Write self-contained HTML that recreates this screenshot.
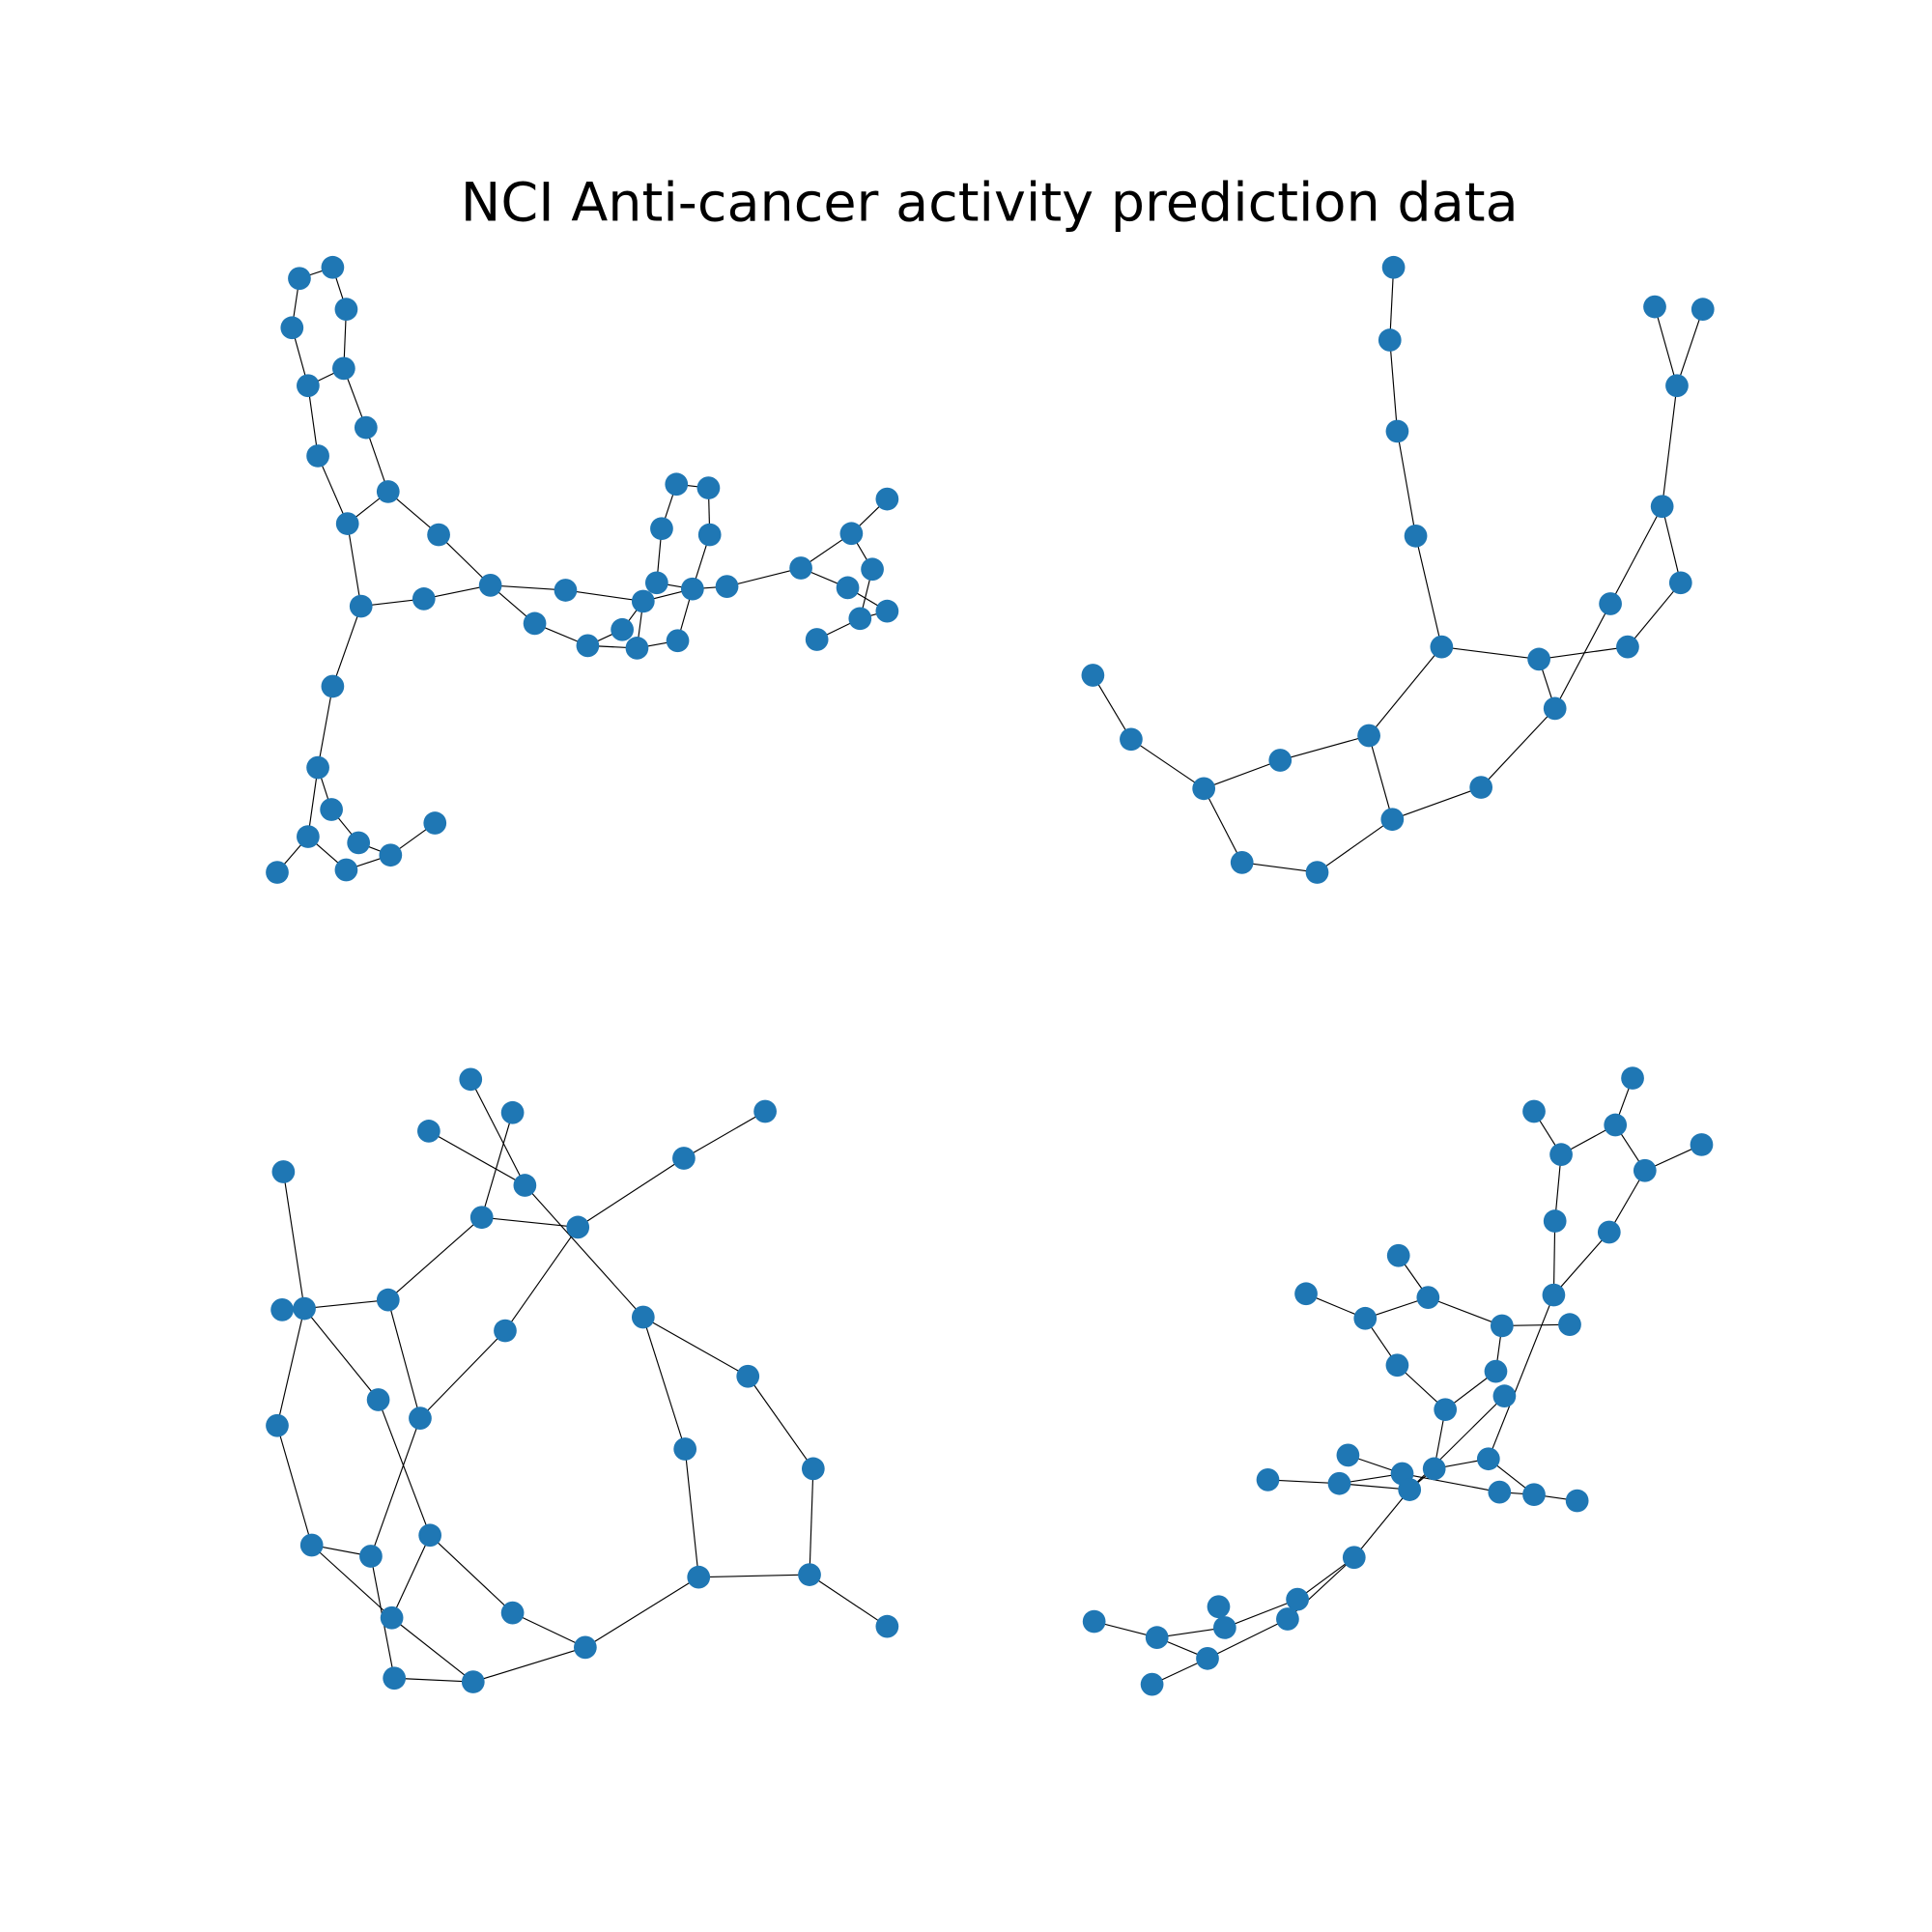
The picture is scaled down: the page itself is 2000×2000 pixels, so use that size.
<!DOCTYPE html>
<html><head><meta charset="utf-8"><style>
html,body{margin:0;padding:0;background:#fff;}
svg{display:block;}
</style></head><body>
<svg id="chart" width="2000" height="2000" viewBox="0 0 1568 1568" xmlns="http://www.w3.org/2000/svg">
<rect width="1568" height="1568" fill="#fff"/>
<text x="803" y="179" text-anchor="middle" font-family="DejaVu Sans, Liberation Sans, sans-serif" font-size="43.6" fill="#000">NCI Anti-cancer activity prediction data</text>
<g id="edges"></g><g id="nodes"></g>
</svg>
<script>
const nodesA=[[270,217],[243,226],[281,251],[237,266],[279,299],[250,313],[297,347],[258,370],[315,399],[282,425],[356,434],[293,492],[344,486],[398,475],[459,479],[434,506],[477,524],[505,511],[517,526],[522,488],[533,473],[550,520],[562,478],[590,476],[549,393],[575,396],[537,429],[576,434],[650,461],[691,433],[720,405],[708,462],[688,477],[720,496],[698,502],[663,519],[270,557],[258,623],[269,657],[250,679],[291,684],[317,694],[281,706],[225,708],[353,668]];
const edgesA=[[2,1],[1,3],[2,4],[3,5],[4,6],[6,5],[5,7],[6,8],[7,9],[8,10],[10,9],[9,11],[10,12],[11,14],[12,13],[13,14],[14,15],[14,16],[16,17],[17,19],[18,20],[17,18],[20,19],[19,22],[15,20],[20,23],[21,23],[21,27],[27,25],[25,26],[26,28],[28,23],[23,22],[23,24],[24,29],[29,30],[30,31],[30,32],[29,33],[33,34],[32,35],[35,34],[35,36],[12,37],[37,38],[38,39],[38,40],[39,41],[41,42],[40,43],[43,42],[42,45],[40,44]];
const nodesB=[[1131,217],[1128,276],[1134,350],[1149,435],[1170,525],[1249,535],[1321,525],[1364,473],[1349,411],[1361,313],[1343,249],[1382,251],[1307,490],[1262,575],[1202,639],[1130,665],[1111,597],[1039,617],[977,640],[918,600],[887,548],[1008,700],[1069,708]];
const edgesB=[[1,2],[2,3],[3,4],[4,5],[5,6],[6,7],[7,8],[8,9],[9,10],[10,11],[10,12],[9,13],[13,14],[6,14],[14,15],[15,16],[16,17],[17,5],[17,18],[18,19],[19,20],[20,21],[19,22],[22,23],[23,16]];
const nodesC=[[382,876],[416,903],[348,918],[621,902],[230,951],[426,962],[555,940],[391,988],[469,996],[229,1063],[247,1062],[315,1055],[410,1080],[522,1069],[307,1136],[341,1151],[225,1157],[607,1117],[556,1176],[660,1192],[253,1254],[301,1263],[349,1246],[318,1313],[416,1309],[567,1280],[657,1278],[720,1320],[475,1337],[320,1362],[384,1365]];
const edgesC=[[1,6],[6,14],[3,6],[2,8],[8,9],[9,7],[7,4],[9,13],[13,16],[8,12],[12,11],[11,5],[11,17],[11,15],[12,16],[16,22],[15,23],[17,21],[21,22],[21,24],[22,30],[23,24],[23,25],[24,31],[30,31],[25,29],[31,29],[29,26],[26,19],[19,14],[14,18],[18,20],[20,27],[26,27],[27,28]];
const nodesD=[[1325,875],[1245,902],[1311,913],[1267,937],[1381,929],[1335,950],[1262,991],[1306,1000],[1135,1019],[1060,1050],[1159,1053],[1261,1051],[1108,1070],[1219,1076],[1274,1075],[1134,1108],[1214,1113],[1221,1133],[1173,1144],[1094,1181],[1208,1184],[1029,1201],[1087,1204],[1138,1196],[1164,1192],[1144,1209],[1217,1211],[1245,1213],[1280,1218],[1099,1264],[1053,1298],[989,1304],[1045,1314],[888,1316],[939,1329],[994,1321],[980,1346],[935,1367]];
const edgesD=[[2,4],[4,3],[3,1],[3,6],[6,5],[4,7],[7,12],[6,8],[8,12],[12,21],[18,26],[11,9],[11,13],[10,13],[11,14],[14,15],[14,17],[13,16],[16,19],[17,19],[19,25],[20,24],[22,23],[23,24],[23,26],[24,27],[27,28],[28,29],[21,28],[25,21],[26,25],[26,30],[30,31],[30,33],[31,36],[36,35],[35,34],[35,37],[37,33],[37,38]];
const NS='http://www.w3.org/2000/svg';
const eg=document.getElementById('edges'),ng=document.getElementById('nodes');
function draw(nodes,edges,tag){
  edges.forEach(function(e,i){
    const a=nodes[e[0]-1],b=nodes[e[1]-1];
    const l=document.createElementNS(NS,'line');
    l.setAttribute('x1',a[0]);l.setAttribute('y1',a[1]);l.setAttribute('x2',b[0]);l.setAttribute('y2',b[1]);
    l.setAttribute('stroke','#000');l.setAttribute('stroke-width','0.9');
    
    
    eg.appendChild(l);
  });
  nodes.forEach(function(p,i){
    const c=document.createElementNS(NS,'circle');
    c.setAttribute('cx',p[0]);c.setAttribute('cy',p[1]);c.setAttribute('r','9.3');
    c.setAttribute('fill','#1f77b4');
    
    
    ng.appendChild(c);
  });
}
draw(nodesA,edgesA,'a');draw(nodesB,edgesB,'b');draw(nodesC,edgesC,'c');draw(nodesD,edgesD,'d');
</script>
</body></html>
